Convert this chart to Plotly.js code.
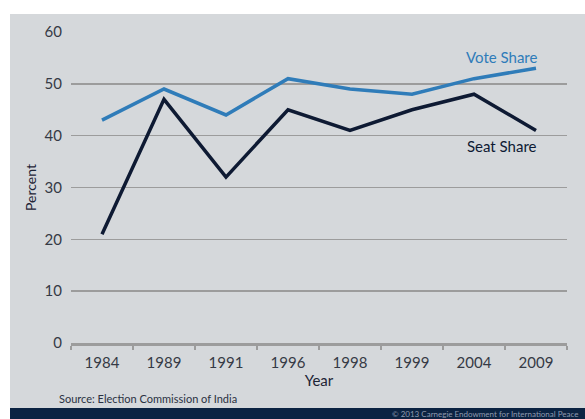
<!DOCTYPE html>
<html>
<head>
<meta charset="utf-8">
<script src="https://cdn.plot.ly/plotly-3.0.1.min.js"></script>
<style>html,body{margin:0;padding:0;background:#fff;}#chart{width:585px;height:419px;}</style>
</head>
<body>
<div id="chart"></div>
<script>
const years = ["1984","1989","1991","1996","1998","1999","2004","2009"];
const voteShare = [43, 49, 44, 51, 49, 48, 51, 53];
const seatShare = [21, 47, 32, 45, 41, 45, 48, 41];
const yTicks = [0, 10, 20, 30, 40, 50, 60];

const FONT = "Lato, 'Open Sans', sans-serif";
const BLUE = "#2f7cb9";
const NAVY = "#0e1a33";

const traces = [
  {x: years, y: voteShare, type: "scatter", mode: "lines", name: "Vote Share",
   line: {color: BLUE, width: 3.5}, hoverinfo: "skip"},
  {x: years, y: seatShare, type: "scatter", mode: "lines", name: "Seat Share",
   line: {color: NAVY, width: 3.5}, hoverinfo: "skip"}
];

const lastIdx = years.length - 1;

const layout = {
  width: 585, height: 419,
  margin: {l: 71, r: 18, t: 32, b: 76},
  paper_bgcolor: "#ffffff",
  plot_bgcolor: "rgba(0,0,0,0)",
  showlegend: false,
  font: {family: FONT, color: "#353a45", size: 15},
  xaxis: {
    type: "category", categoryorder: "array", categoryarray: years,
    tickvals: years, ticktext: years,
    showgrid: false, zeroline: false,
    showline: true, linecolor: "#9c9c9c", linewidth: 3,
    ticks: "outside", tickson: "boundaries", ticklen: 4, tickwidth: 1.5, tickcolor: "#9c9c9c",
    ticklabelstandoff: 4,
    tickfont: {family: FONT, size: 15, color: "#353a45"},
    range: [-0.5, 7.5],
    title: {text: "Year", font: {family: FONT, size: 15, color: "#1d2435"}, standoff: 5}
  },
  yaxis: {
    range: [0, 60], tickvals: yTicks, ticktext: yTicks.map(String),
    showgrid: true, gridcolor: "#9c9c9c", gridwidth: 1.5,
    zeroline: false, showline: false, ticks: "", ticklabelstandoff: 8,
    tickfont: {family: FONT, size: 15, color: "#353a45"},
    title: {text: "Percent", font: {family: FONT, size: 14, color: "#1d2435"}, standoff: 4}
  },
  shapes: [
    {type: "rect", xref: "paper", yref: "paper", layer: "below",
     x0: -61/496, x1: 18/496 + 1, y0: -76/311 + 11/311, y1: 1 + 18/311,
     fillcolor: "#d5d8db", line: {width: 0}},
    {type: "rect", xref: "paper", yref: "paper", layer: "below",
     x0: -61/496, x1: 18/496 + 1, y0: -76/311, y1: -76/311 + 11/311,
     fillcolor: "#0b2342", line: {width: 0}}
  ],
  annotations: [
    {x: lastIdx, y: 55.2, xref: "x", yref: "y", text: "Vote Share", showarrow: false,
     xanchor: "right", yanchor: "middle", xshift: 3,
     font: {family: FONT, size: 15, color: BLUE}},
    {x: lastIdx, y: 38, xref: "x", yref: "y", text: "Seat Share", showarrow: false,
     xanchor: "right", yanchor: "middle", xshift: 3,
     font: {family: FONT, size: 15, color: NAVY}},
    {x: -14/496, y: -55/311, xref: "paper", yref: "paper", text: "Source: Election Commission of India",
     showarrow: false, xanchor: "left", yanchor: "middle",
     font: {family: FONT, size: 11, color: "#2a3142"}},
    {x: 1 + 13/496, y: -70.5/311, xref: "paper", yref: "paper", text: "© 2013 Carnegie Endowment for International Peace",
     showarrow: false, xanchor: "right", yanchor: "middle",
     font: {family: FONT, size: 8, color: "#8f9bb0"}}
  ]
};

Plotly.newPlot("chart", traces, layout, {displayModeBar: false, staticPlot: true});
</script>
</body>
</html>
